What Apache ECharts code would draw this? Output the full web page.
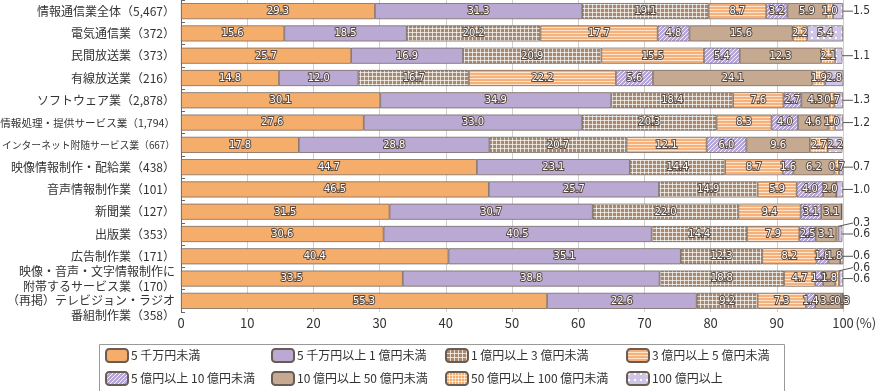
<!DOCTYPE html>
<html><head><meta charset="utf-8">
<script src="https://cdn.jsdelivr.net/npm/echarts@6/dist/echarts.min.js"></script>
<style>html,body{margin:0;padding:0;background:#fff}#c{width:876px;height:391px}</style>
</head><body><div id="c"></div>
<script>
const categories = [
  '情報通信業全体（5,467）','電気通信業（372）','民間放送業（373）','有線放送業（216）',
  'ソフトウェア業（2,878）','情報処理・提供サービス業（1,794）','インターネット附随サービス業（667）',
  '映像情報制作・配給業（438）','音声情報制作業（101）','新聞業（127）','出版業（353）','広告制作業（171）',
  '映像・音声・文字情報制作に\n附帯するサービス業（170）','（再掲）テレビジョン・ラジオ\n番組制作業（358）'
];
const seriesNames = ['5 千万円未満','5 千万円以上 1 億円未満','1 億円以上 3 億円未満','3 億円以上 5 億円未満',
  '5 億円以上 10 億円未満','10 億円以上 50 億円未満','50 億円以上 100 億円未満','100 億円以上'];
const vLt05   = [29.3,15.6,25.7,14.8,30.1,27.6,17.8,44.7,46.5,31.5,30.6,40.4,33.5,55.3];
const v05to1  = [31.3,18.5,16.9,12.0,34.9,33.0,28.8,23.1,25.7,30.7,40.5,35.1,38.8,22.6];
const v1to3   = [19.1,20.2,20.9,16.7,18.4,20.3,20.7,14.4,14.9,22.0,14.4,12.3,18.8,9.2];
const v3to5   = [8.7,17.7,15.5,22.2,7.6,8.3,12.1,8.7,5.9,9.4,7.9,8.2,4.7,7.3];
const v5to10  = [3.2,4.8,5.4,5.6,2.7,4.0,6.0,1.6,4.0,3.1,2.5,1.8,1.2,1.4];
const v10to50 = [5.9,15.6,12.3,24.1,4.3,4.6,9.6,6.2,2.0,3.1,3.1,1.8,1.8,3.9];
const v50to100= [1.0,2.2,2.1,1.9,0.7,1.0,2.7,0.7,0,0,0.3,0,0.6,0.3];
const v100    = [1.5,5.4,1.1,2.8,1.3,1.2,2.2,0.7,1.0,0,0.6,0.6,0.6,0];
const xTicks = [0,10,20,30,40,50,60,70,80,90,100];
// rows whose small values are labelled outside the bar
const out100 = [0,2,4,5,7,8,10,11,12];
const out50Above = [10,12];
const labelFontSizes = {5: 10.6, 6: 9.8};

const W = 876, GL = 181, GR = 33, GT = 0, GB = 79;

function pat(size, bg, draw) {
  const c = document.createElement('canvas');
  c.width = size; c.height = size;
  const g = c.getContext('2d');
  g.fillStyle = bg; g.fillRect(0,0,size,size);
  draw && draw(g, size);
  return {image: c, repeat: 'repeat'};
}
const colors = [
  '#f5ad6b',
  '#b9a9d3',
  pat(4, '#a8896f', (g,s)=>{g.fillStyle='rgba(255,255,255,0.7)'; g.fillRect(0,0,s,1); g.fillRect(0,0,1,s);}),
  pat(3, '#f6b07a', (g,s)=>{g.fillStyle='rgba(255,240,225,0.8)'; g.fillRect(0,0,s,1);}),
  pat(4, '#b6a6d5', (g,s)=>{g.fillStyle='rgba(255,255,255,0.85)'; for(let i=0;i<s;i++){g.fillRect(s-1-i,i,1,1);} }),
  '#c5a991',
  pat(3, '#f5ad6b', (g,s)=>{g.fillStyle='rgba(255,255,255,0.6)'; g.fillRect(0,0,s,1); g.fillRect(0,0,1,s);}),
  pat(6, '#cfc5e6', (g,s)=>{g.fillStyle='#ffffff'; g.fillRect(1,1,2,2);})
];
const allVals = [vLt05,v05to1,v1to3,v3to5,v5to10,v10to50,v50to100,v100];

const numFont = '"Liberation Sans Narrow","DejaVu Sans Condensed",sans-serif';
const fmt = p => Number(p.value).toFixed(1);
const insideLabel = {
  show: true, position: 'inside', color: '#fff', fontSize: 11, fontFamily: numFont,
  textBorderColor: '#5b4c43', textBorderWidth: 2, formatter: fmt
};
const outLabel = {show: true, position: 'right', color: '#333', fontSize: 12, fontFamily: numFont,
  textBorderWidth: 0, formatter: fmt};

const series = allVals.map((vals, si) => ({
  name: seriesNames[si], type: 'bar', stack: 'a', barWidth: 16,
  itemStyle: {color: colors[si], borderColor: '#6a5c53', borderWidth: 0.7},
  label: Object.assign({}, insideLabel),
  labelLine: {show: false, lineStyle: {color: '#555', width: 1}},
  data: vals.map((v, di) => {
    const item = {value: v};
    if (v === 0) item.label = {show: false};
    else if ((si === 7 && out100.includes(di)) || (si === 6 && out50Above.includes(di))) {
      item.label = outLabel;
      item.labelLine = {show: true, lineStyle: {color: '#555', width: 1}};
    }
    return item;
  }),
  labelLayout: function (p) {
    const di = p.dataIndex;
    const xEnd = W - GR;
    const cy = p.rect.y + p.rect.height / 2;
    if (si === 7 && out100.includes(di)) {
      return {x: xEnd + 10, y: cy, align: 'left', verticalAlign: 'middle',
        labelLinePoints: [[xEnd, cy], [xEnd + 4, cy], [xEnd + 9, cy]]};
    }
    if (si === 6 && out50Above.includes(di)) {
      const mx = p.rect.x + p.rect.width / 2, ty = cy - 11;
      return {x: xEnd + 10, y: ty, align: 'left', verticalAlign: 'middle',
        labelLinePoints: [[mx, p.rect.y], [mx, ty], [xEnd + 9, ty]]};
    }
    return {};
  }
}));

const yData = categories.map((c, i) => {
  if (i === 13) return {value: '\n' + c};
  if (labelFontSizes[i]) return {value: c, textStyle: {fontSize: labelFontSizes[i]}};
  return c;
});

const legendPos = [[105,348],[271,348],[445,348],[626,348],[105,371],[271,371],[445,371],[626,371]];
const legends = seriesNames.map((n, i) => ({
  data: [n], left: legendPos[i][0], top: legendPos[i][1], itemWidth: 22, itemHeight: 13, itemGap: 0,
  selectedMode: false, padding: 0,
  textStyle: {fontSize: 12, color: '#333', fontFamily: '"Noto Sans CJK JP",sans-serif', padding: [0,0,0,-2]}
}));

const chart = echarts.init(document.getElementById('c'), null, {renderer: 'canvas'});
chart.setOption({
  animation: false,
  grid: {left: GL, right: GR, top: GT, bottom: GB, containLabel: false, outerBoundsMode: 'none'},
  xAxis: {
    type: 'value', min: 0, max: 100, interval: 10,
    axisLine: {show: false}, axisTick: {show: false},
    splitLine: {show: true, lineStyle: {color: '#cfcfcf', width: 1}},
    axisLabel: {
      color: '#333', fontSize: 13, margin: 5, fontFamily: '"Noto Sans CJK JP",sans-serif',
      formatter: v => xTicks.includes(v) ? (v === 100 ? '{p|}100{b|(%)}' : String(v)) : '',
      rich: {p: {width: 24}, b: {width: 24, fontSize: 13, color: '#333'}}
    }
  },
  yAxis: {
    type: 'category', inverse: true, data: yData,
    axisLine: {show: true, lineStyle: {color: '#666', width: 1}},
    axisTick: {show: true, inside: true, length: 4, lineStyle: {color: '#666'}},
    axisLabel: {color: '#333', fontSize: 12, margin: 6, lineHeight: 15, interval: 0,
      fontFamily: '"Noto Sans CJK JP",sans-serif'}
  },
  legend: legends,
  graphic: [{type: 'rect', left: 97, top: 342, shape: {width: 685, height: 48},
    style: {fill: 'none', stroke: '#999', lineWidth: 1}, silent: true}],
  series: series
});
</script></body></html>
